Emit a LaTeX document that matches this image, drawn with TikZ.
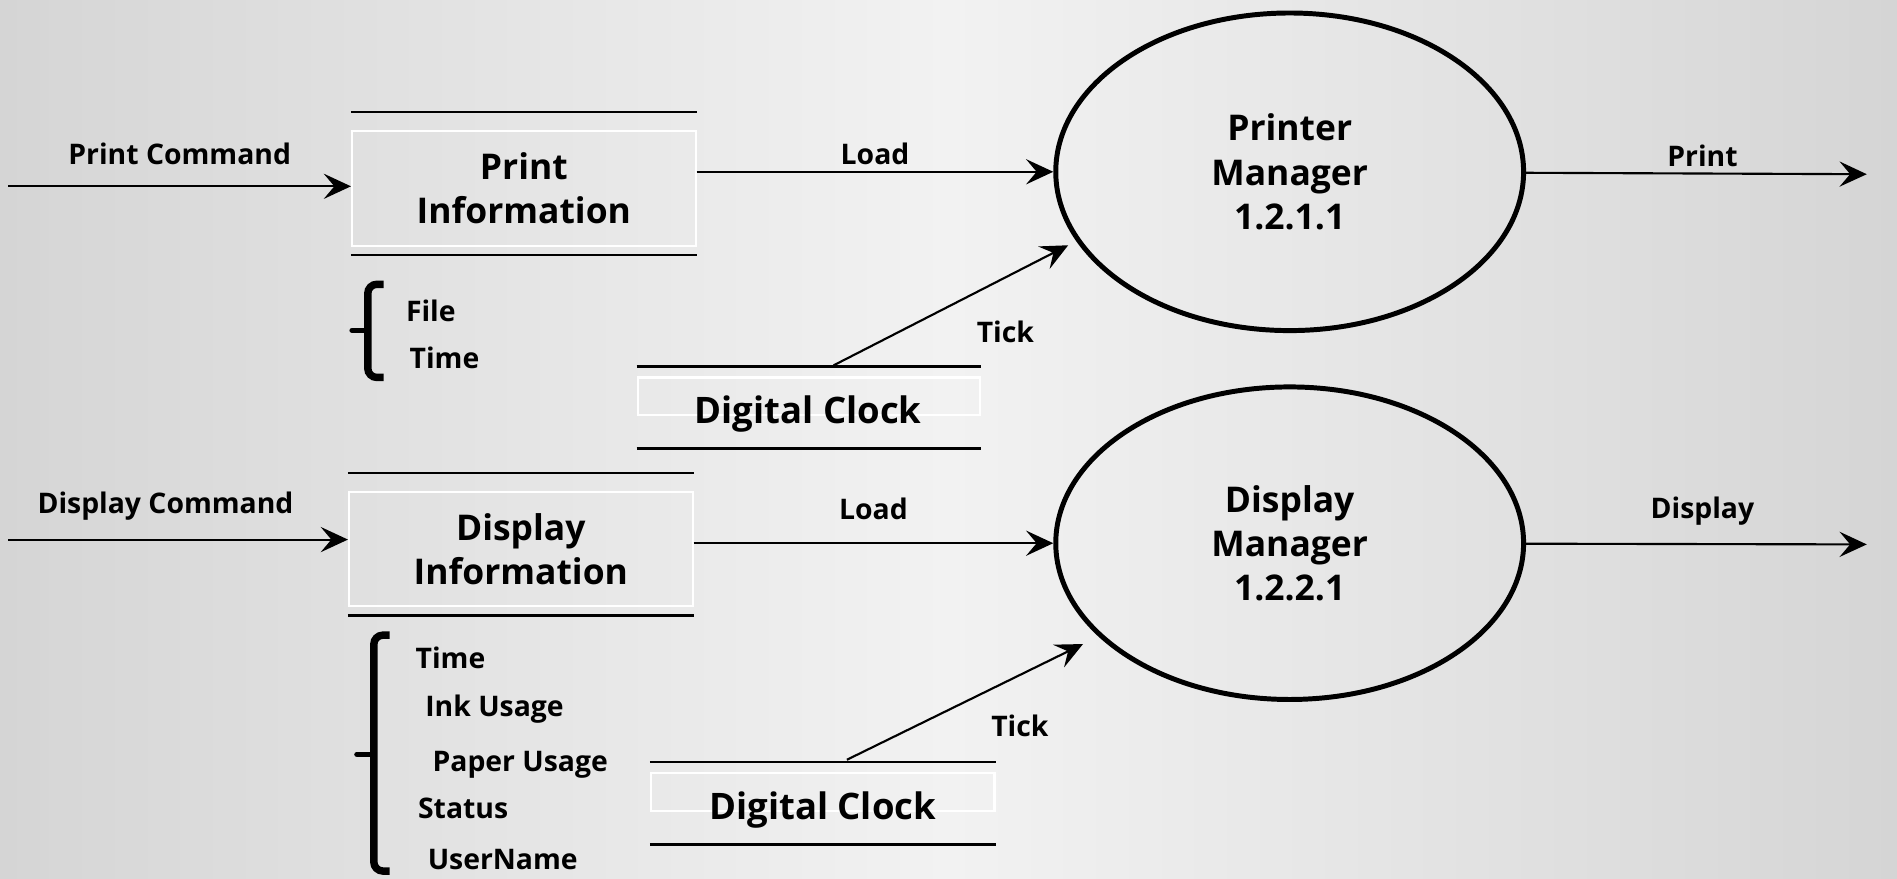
\documentclass[tikz,border=0pt]{standalone}
\usepackage{fontspec}
\setmainfont{Open Sans}
\usetikzlibrary{positioning, shapes.geometric, arrows.meta}

\definecolor{bgedge}{HTML}{D5D5D5}
\definecolor{bgmid}{HTML}{F2F2F2}

\begin{document}
\begin{tikzpicture}[x=0.12mm, y=-0.12mm,
  every node/.style={font=\bfseries},
  bigtext/.style={align=center, font=\fontsize{10}{12.5}\selectfont\bfseries},
  store/.style={draw=white, line width=0.6pt, inner sep=0pt,
    minimum width=34.08mm, minimum height=11.4mm},
  proc/.style={draw, ellipse, line width=1.4pt, inner sep=0pt,
    minimum width=46.4mm, bigtext},
  flow/.style={-{Stealth[length=2.7mm, width=2.5mm, inset=1.05mm]}, line width=0.6pt},
  sline/.style={line width=0.7pt},
  lbl/.style={inner sep=0pt, text depth=0pt, font=\fontsize{8}{10}\selectfont\bfseries},
  item/.style={lbl, anchor=base west},
  clocktext/.style={anchor=base, inner sep=0pt, font=\fontsize{10.3}{12}\selectfont\bfseries},
  bracket/.style={line width=2.1pt, rounded corners=0.9mm},
  nub/.style={line width=1.5pt, line cap=round}]

% background
\shade[left color=bgedge, right color=bgedge, middle color=bgmid] (0,0) rectangle (1568,726);

% print branch
\node (pinfo) [store, bigtext] at (433,155.5) {Print\\Information};
\draw[sline] ([yshift=1.77mm]pinfo.north west) -- ([yshift=1.77mm]pinfo.north east);
\draw[sline] ([yshift=-0.82mm]pinfo.south west) -- ([yshift=-0.82mm]pinfo.south east);
\node (pm) [proc, minimum height=31.5mm] at (1066,142) {Printer\\Manager\\1.2.1.1};

\coordinate (pcmd) at (7,154);
\coordinate (printend) at (1543,144);
\draw[flow] (pcmd) -- node[lbl, above=2.04mm] (pcmdlbl) {Print Command} (pcmd -| pinfo.west);
\draw[flow] (pinfo.east |- pm) -- node[lbl, above=0.6mm] (loada) {Load} (pm);
\draw[flow] (pm) -- node[lbl, above=0.6mm, xshift=0.6mm] (printlbl) {Print} (printend);

% data of print information
\draw[bracket] (317,235) -- (304,235) -- (304,312) -- (317,312);
\draw[nub] (304,273) -- (291,273);
\node (filea) [item] at (335,266) {File};
\node (timea) [item] at (338,304.5) {Time};

% clock for printer
\node (clka) [store, minimum width=33.96mm, minimum height=3.72mm] at (668.5,327.5) {};
\draw[sline] ([yshift=1mm]clka.north west) -- ([yshift=1mm]clka.north east);
\draw[sline] ([yshift=-3.24mm]clka.south west) -- ([yshift=-3.24mm]clka.south east);
\node (clkatext) [clocktext] at (668,350) {Digital Clock};
\coordinate (ticka) at (689,302);
\draw[flow, shorten >=0.9mm] (ticka) -- (pm.198);
\node (tickalbl) [lbl, anchor=base] at (831,283) {Tick};

% display branch
\node (dinfo) [store, bigtext, minimum height=11.35mm] at (430.5,453.7) {Display\\Information};
\draw[sline] ([yshift=1.77mm]dinfo.north west) -- ([yshift=1.77mm]dinfo.north east);
\draw[sline] ([yshift=-0.82mm]dinfo.south west) -- ([yshift=-0.82mm]dinfo.south east);
\node (dm) [proc, minimum height=31mm] at (1066,449) {Display\\Manager\\1.2.2.1};

\coordinate (dcmd) at (7,446);
\coordinate (displayend) at (1543,450);
\draw[flow] (dcmd) -- node[lbl, above=2.5mm, xshift=-1.26mm] (dcmdlbl) {Display Command} (dcmd -| dinfo.west);
\draw[flow] (dinfo.east |- dm) -- node[lbl, above=2.2mm] (loadb) {Load} (dm);
\draw[flow] (dm) -- node[lbl, above=2.46mm, xshift=0.6mm] (displaylbl) {Display} (displayend);

% data of display information
\draw[bracket] (322,525) -- (309,525) -- (309,720) -- (322,720);
\draw[nub] (309,623.5) -- (295,623.5);
\node (timeb) [item] at (343,552.4) {Time};
\node (inkb) [item] at (351,592.4) {Ink Usage};
\node (paperb) [item] at (357,637.8) {Paper Usage};
\node (statusb) [item] at (345,676.4) {Status};
\node (userb) [item] at (353,718.6) {UserName};

% clock for display
\node (clkb) [store, minimum width=34.08mm, minimum height=3.72mm] at (680,654.5) {};
\draw[sline] ([yshift=1mm]clkb.north west) -- ([yshift=1mm]clkb.north east);
\draw[sline] ([yshift=-3.24mm]clkb.south west) -- ([yshift=-3.24mm]clkb.south east);
\node (clkbtext) [clocktext] at (680,677) {Digital Clock};
\coordinate (tickb) at (700,628);
\draw[flow, shorten >=1.7mm] (tickb) -- (dm.206);
\node (tickblbl) [lbl, anchor=base] at (843,609) {Tick};

\end{tikzpicture}
\end{document}
